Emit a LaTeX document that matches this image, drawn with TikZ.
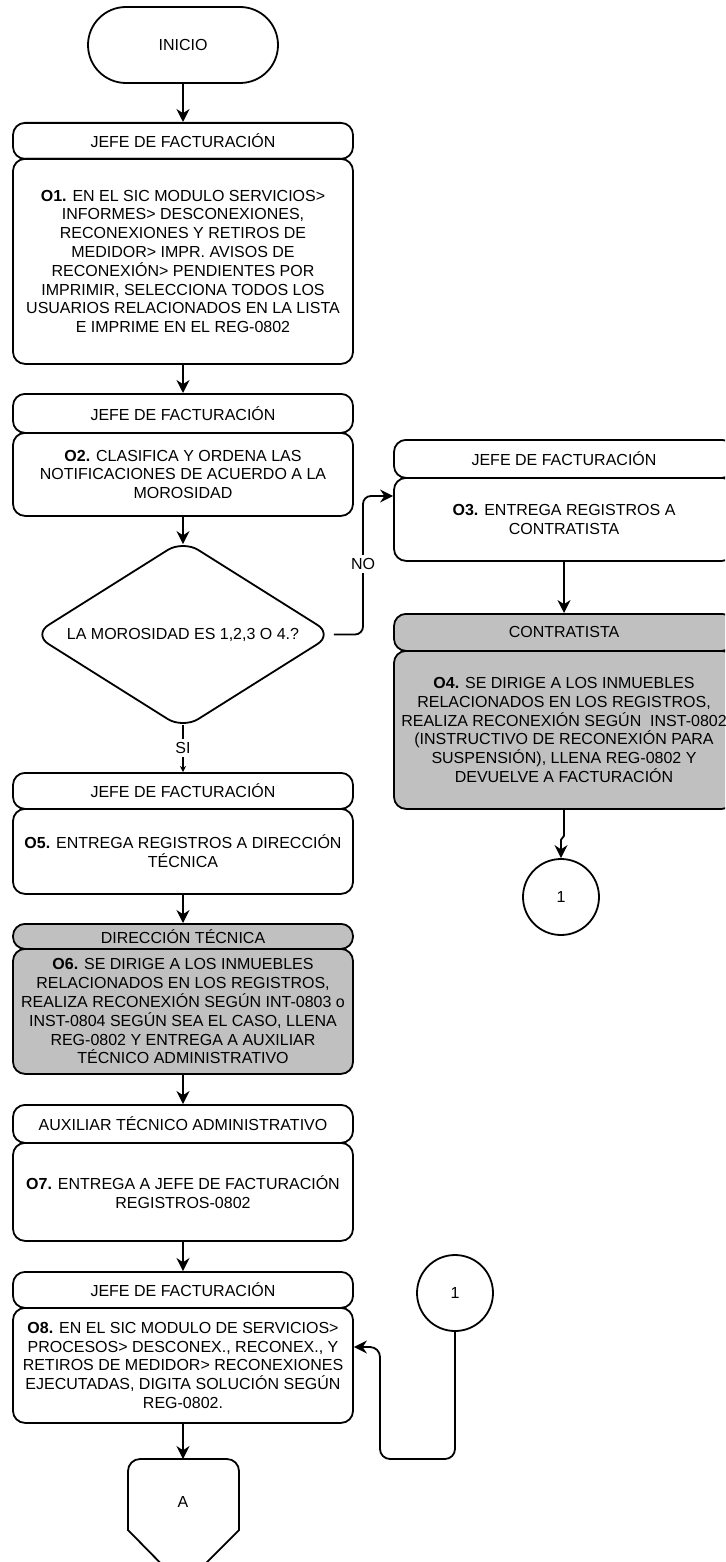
\documentclass[tikz,border=0pt]{standalone}
\usepackage{fontspec}
\setmainfont{Liberation Sans}
\usetikzlibrary{arrows.meta,shapes.geometric}
\definecolor{boxgray}{RGB}{192,192,192}
\tikzset{
  every node/.style={font=\fontsize{16}{18.8}\selectfont},
  lw/.style={line width=1.8pt},
  box/.style={draw, lw, rounded corners=12pt, minimum width=340pt,
    inner sep=2pt, align=center, anchor=north, fill=white},
  greybox/.style={fill=boxgray},
  arr/.style={lw, -{Stealth[length=13pt,width=13pt]}},
  arrsmall/.style={lw, -{Stealth[length=6pt,width=6pt]}},
  conn/.style={draw, circle, lw, minimum size=76pt, inner sep=0pt},
  lbl/.style={fill=white, inner sep=3pt},
}
\begin{document}
\begin{tikzpicture}[x=1pt,y=-1pt]
\useasboundingbox (0,0) rectangle (725,1562);
\clip (0,0) rectangle (725,1562);

% start terminal
\node[draw, lw, rounded corners=38pt, minimum width=190pt, minimum height=76pt] (start) at (183,45) {INICIO};

% O1
\node[box, minimum height=36pt] (h1) at (183,122) {JEFE DE FACTURACIÓN};
\node[box, minimum height=205pt] (b1) at (183,158) {\textbf{O1.} EN EL SIC MODULO SERVICIOS>\\INFORMES> DESCONEXIONES,\\RECONEXIONES Y RETIROS DE\\MEDIDOR> IMPR. AVISOS DE\\RECONEXIÓN> PENDIENTES POR\\IMPRIMIR, SELECCIONA TODOS LOS\\USUARIOS RELACIONADOS EN LA LISTA\\E IMPRIME EN EL REG-0802};

% O2
\node[box, minimum height=39pt] (h2) at (183,393) {JEFE DE FACTURACIÓN};
\node[box, minimum height=83pt] (b2) at (183,432) {\textbf{O2.} CLASIFICA Y ORDENA LAS\\NOTIFICACIONES DE ACUERDO A LA\\MOROSIDAD};

% decision
\node[draw, diamond, aspect=1.6, minimum width=300pt, minimum height=189pt, inner sep=0pt,
  lw, rounded corners=18pt] (d) at (183,634.5) {LA MOROSIDAD ES 1,2,3 O 4.?};

% O3 (right column)
\node[box, minimum height=38pt] (h3) at (564,439) {JEFE DE FACTURACIÓN};
\node[box, minimum height=83pt] (b3) at (564,477) {\textbf{O3.} ENTREGA REGISTROS A\\CONTRATISTA};

% O4
\node[box, greybox, minimum height=37pt] (h4) at (564,613) {CONTRATISTA};
\node[box, greybox, minimum height=158pt] (b4) at (564,650) {\textbf{O4.} SE DIRIGE A LOS INMUEBLES\\RELACIONADOS EN LOS REGISTROS,\\REALIZA RECONEXIÓN SEGÚN\ \ INST-0802\\(INSTRUCTIVO DE RECONEXIÓN PARA\\SUSPENSIÓN), LLENA REG-0802 Y\\DEVUELVE A FACTURACIÓN};

\node[conn] (c1) at (561,897) {1};

% O5
\node[box, minimum height=36pt] (h5) at (183,772) {JEFE DE FACTURACIÓN};
\node[box, minimum height=85pt] (b5) at (183,808) {\textbf{O5.} ENTREGA REGISTROS A DIRECCIÓN\\TÉCNICA};

% O6
\node[box, greybox, minimum height=25pt, inner sep=1pt] (h6) at (183,923) {DIRECCIÓN TÉCNICA};
\node[box, greybox, minimum height=125pt] (b6) at (183,948) {\textbf{O6.} SE DIRIGE A LOS INMUEBLES\\RELACIONADOS EN LOS REGISTROS,\\REALIZA RECONEXIÓN SEGÚN INT-0803 o\\INST-0804 SEGÚN SEA EL CASO, LLENA\\REG-0802 Y ENTREGA A AUXILIAR\\TÉCNICO ADMINISTRATIVO};

% O7
\node[box, minimum height=38pt] (h7) at (183,1104) {AUXILIAR TÉCNICO ADMINISTRATIVO};
\node[box, minimum height=98pt] (b7) at (183,1142) {\textbf{O7.} ENTREGA A JEFE DE FACTURACIÓN\\REGISTROS-0802};

% O8
\node[box, minimum height=36pt] (h8) at (183,1271) {JEFE DE FACTURACIÓN};
\node[box, minimum height=115pt] (b8) at (183,1307) {\textbf{O8.} EN EL SIC MODULO DE SERVICIOS>\\PROCESOS> DESCONEX., RECONEX., Y\\RETIROS DE MEDIDOR> RECONEXIONES\\EJECUTADAS, DIGITA SOLUCIÓN SEGÚN\\REG-0802.};

\node[conn] (c2) at (455,1293) {1};

% off-page connector A
\draw[lw] (183,1586) -- (128,1530) [rounded corners=12pt] -- (128,1459) -- (239,1459) [sharp corners] -- (239,1530) -- cycle;
\node (atext) at (183,1502) {A};
\coordinate (atop) at (183,1459);

% main flow
\draw[arr] (start.south) -- (h1.north);
\draw[arr] (b1.south) -- (h2.north);
\draw[arr, shorten >=-5pt] (b2.south) -- (d.north);
\node (si) at (183,748) {SI};
\draw[lw, shorten <=-5pt] (d.south) -- (si.north);
\draw[arrsmall] (si.south) -- (h5.north);
\draw[arr] (b5.south) -- (h6.north);
\draw[arr] (b6.south) -- (h7.north);
\draw[arr] (b7.south) -- (h8.north);
\draw[arr] (b8.south) -- (atop);

% NO branch
\coordinate (k0) at (363,496);
\draw[arr, rounded corners=8pt] (d.east) -| (k0) -- (b3.west |- k0);
\node[lbl] (no) at (363,564) {NO};

% right column flow
\draw[arr] (b3.south) -- (h4.north);
\draw[arr] (b4.south) -- ++(0,26) -- ++(-3,4) -- (c1.north);

% return from connector 1
\coordinate (k1) at (380,1347);
\coordinate (k2) at (380,1459);
\draw[arr, rounded corners=10pt] (c2.south) |- (k2) -- (k1) -- (b8.east |- k1);
\end{tikzpicture}
\end{document}
